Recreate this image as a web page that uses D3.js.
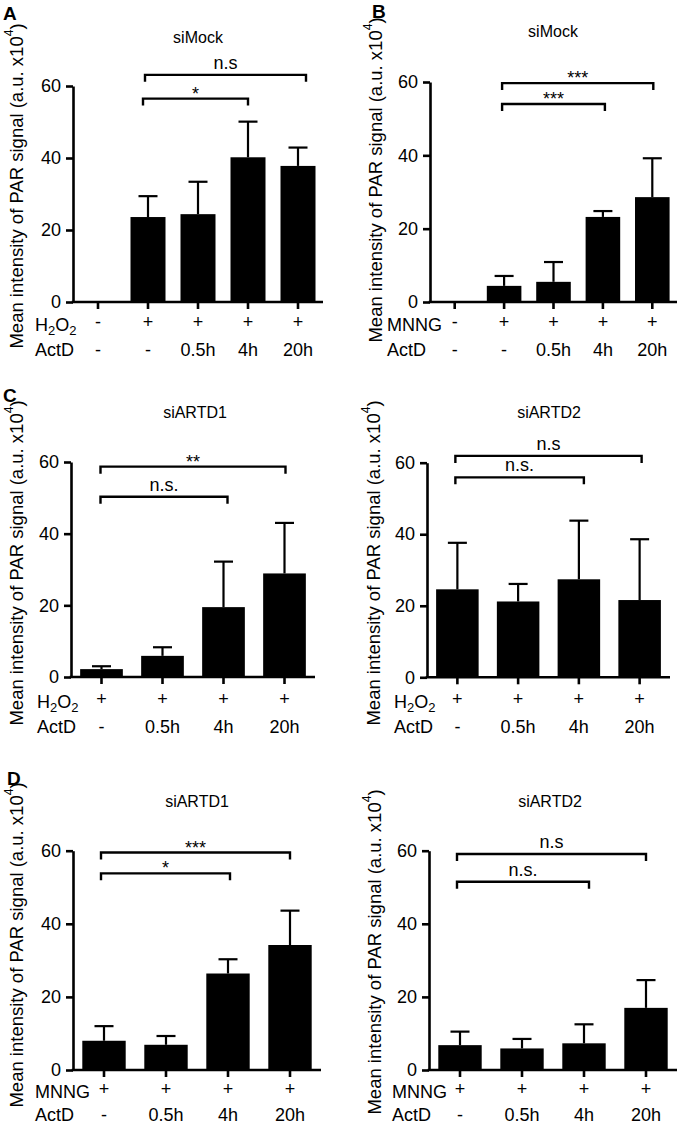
<!DOCTYPE html>
<html><head><meta charset="utf-8">
<script src="https://cdn.jsdelivr.net/npm/d3@7"></script>
<style>
html,body{margin:0;padding:0;background:#fff;}
text{font-family:"Liberation Sans",Arial,Helvetica,sans-serif;fill:#000;}
</style></head>
<body><div id="chart"></div>
<script>
// ---------- DATA ----------
const yTicks = [0, 20, 40, 60];

// Panel A (siMock, H2O2)
const treatA = ['-', '+', '+', '+', '+'];
const actdA  = ['-', '-', '0.5h', '4h', '20h'];
const meanA  = [0, 23.6, 24.4, 40.2, 37.8];
const errA   = [0, 5.8, 9.0, 9.9, 5.1];
const bracketsA = [{from:1, to:4, label:'n.s'}, {from:1, to:3, label:'*'}];

// Panel B (siMock, MNNG)
const treatB = ['-', '+', '+', '+', '+'];
const actdB  = ['-', '-', '0.5h', '4h', '20h'];
const meanB  = [0, 4.4, 5.5, 23.2, 28.6];
const errB   = [0, 2.7, 5.4, 1.6, 10.6];
const bracketsB = [{from:1, to:4, label:'***'}, {from:1, to:3, label:'***'}];

// Panel C left (siARTD1, H2O2)
const treatC1 = ['+', '+', '+', '+'];
const actdC1  = ['-', '0.5h', '4h', '20h'];
const meanC1  = [2.2, 5.9, 19.5, 28.9];
const errC1   = [0.8, 2.4, 12.7, 14.1];
const bracketsC1 = [{from:0, to:3, label:'**'}, {from:0, to:2, label:'n.s.'}];

// Panel C right (siARTD2, H2O2)
const treatC2 = ['+', '+', '+', '+'];
const actdC2  = ['-', '0.5h', '4h', '20h'];
const meanC2  = [24.6, 21.2, 27.4, 21.6];
const errC2   = [13.0, 4.9, 16.4, 17.0];
const bracketsC2 = [{from:0, to:3, label:'n.s'}, {from:0, to:2, label:'n.s.'}];

// Panel D left (siARTD1, MNNG)
const treatD1 = ['+', '+', '+', '+'];
const actdD1  = ['-', '0.5h', '4h', '20h'];
const meanD1  = [8.0, 6.9, 26.4, 34.2];
const errD1   = [4.0, 2.4, 3.9, 9.4];
const bracketsD1 = [{from:0, to:3, label:'***'}, {from:0, to:2, label:'*'}];

// Panel D right (siARTD2, MNNG)
const treatD2 = ['+', '+', '+', '+'];
const actdD2  = ['-', '0.5h', '4h', '20h'];
const meanD2  = [6.8, 5.9, 7.3, 17.0];
const errD2   = [3.7, 2.6, 5.2, 7.6];
const bracketsD2 = [{from:0, to:3, label:'n.s'}, {from:0, to:2, label:'n.s.'}];

// ---------- LAYOUT ----------
const W = 683, H = 1125;
const panels = [
  {letter:'A', lx:3, ly:20, title:'siMock', tx:198, ty:43, treatName:'H2O2',
   treat:treatA, actd:actdA, mean:meanA, err:errA, brackets:bracketsA,
   x0:73, x1:323, yTop:86, yBot:302, r1:29, r2:54, labX:35, ytX:16, ytY:186,
   bl:[{level:63.1, dxFrom:-3, dxTo:8}, {level:56.5, dxFrom:-5, dxTo:0}]},
  {letter:'B', lx:372, ly:18, title:'siMock', tx:553, ty:37, treatName:'MNNG',
   treat:treatB, actd:actdB, mean:meanB, err:errB, brackets:bracketsB,
   x0:430, x1:677, yTop:82, yBot:302, r1:29, r2:54, labX:387, ytX:375, ytY:180,
   bl:[{level:59.7, dxFrom:-2, dxTo:1}, {level:54.0, dxFrom:-2, dxTo:2}]},
  {letter:'C', lx:3, ly:402, title:'siARTD1', tx:195, ty:418, treatName:'H2O2',
   treat:treatC1, actd:actdC1, mean:meanC1, err:errC1, brackets:bracketsC1,
   x0:71, x1:315, yTop:462, yBot:677, r1:31, r2:56, labX:37, ytX:16, ytY:563,
   bl:[{level:58.7, dxFrom:-1, dxTo:1}, {level:50.3, dxFrom:-1, dxTo:4}]},
  {letter:'', title:'siARTD2', tx:549, ty:418, treatName:'H2O2',
   treat:treatC2, actd:actdC2, mean:meanC2, err:errC2, brackets:bracketsC2,
   x0:427, x1:670, yTop:462.7, yBot:677.3, r1:31, r2:56, labX:394, ytX:373, ytY:563,
   bl:[{level:61.9, dxFrom:-2, dxTo:2}, {level:55.9, dxFrom:-2, dxTo:5}]},
  {letter:'D', lx:7, ly:785, title:'siARTD1', tx:197, ty:807, treatName:'MNNG',
   treat:treatD1, actd:actdD1, mean:meanD1, err:errD1, brackets:bracketsD1,
   x0:73, x1:321, yTop:850.7, yBot:1070, r1:28, r2:50.5, labX:35, ytX:16, ytY:945,
   bl:[{level:59.5, dxFrom:-3, dxTo:0}, {level:53.8, dxFrom:-3, dxTo:2}]},
  {letter:'', title:'siARTD2', tx:550, ty:807, treatName:'MNNG',
   treat:treatD2, actd:actdD2, mean:meanD2, err:errD2, brackets:bracketsD2,
   x0:429, x1:677, yTop:850.7, yBot:1070, r1:28, r2:50.5, labX:392, ytX:374, ytY:952,
   bl:[{level:59.1, dxFrom:-3, dxTo:0}, {level:51.5, dxFrom:-3, dxTo:5}]}
];

const svg = d3.select('#chart').append('svg')
  .attr('width', W).attr('height', H).attr('viewBox', `0 0 ${W} ${H}`);

function drawPanel(p) {
  const g = svg.append('g');
  const n = p.mean.length;
  const x = d3.scaleBand().domain(d3.range(n)).range([p.x0, p.x1])
    .paddingInner(0.3).paddingOuter(0.15);
  const y = d3.scaleLinear().domain([0, 60]).range([p.yBot, p.yTop]);
  const cx = i => x(i) + x.bandwidth() / 2;

  // bars
  g.selectAll('rect.bar').data(p.mean.map((v, i) => ({v, i})).filter(d => d.v > 0))
    .enter().append('rect').attr('class', 'bar')
    .attr('x', d => x(d.i)).attr('width', x.bandwidth())
    .attr('y', d => y(d.v)).attr('height', d => y(0) - y(d.v))
    .attr('fill', '#000');

  // error bars (upper only)
  const eb = p.mean.map((v, i) => ({v, e: p.err[i], i})).filter(d => d.e > 0);
  g.selectAll('line.stem').data(eb).enter().append('line')
    .attr('x1', d => cx(d.i)).attr('x2', d => cx(d.i))
    .attr('y1', d => y(d.v)).attr('y2', d => y(d.v + d.e))
    .attr('stroke', '#000').attr('stroke-width', 2.2);
  g.selectAll('line.cap').data(eb).enter().append('line')
    .attr('x1', d => cx(d.i) - 9.5).attr('x2', d => cx(d.i) + 9.5)
    .attr('y1', d => y(d.v + d.e)).attr('y2', d => y(d.v + d.e))
    .attr('stroke', '#000').attr('stroke-width', 2.2);

  // y axis
  const ya = g.append('g').attr('transform', `translate(${p.x0},0)`)
    .call(d3.axisLeft(y).tickValues(yTicks).tickSize(7).tickSizeOuter(0).tickPadding(5));
  // x axis
  const xa = g.append('g').attr('transform', `translate(0,${p.yBot})`)
    .call(d3.axisBottom(x).tickSize(7).tickSizeOuter(0).tickFormat(''));
  [ya, xa].forEach(a => {
    a.select('.domain').attr('stroke', '#000').attr('stroke-width', 2.6);
    a.selectAll('.tick line').attr('stroke', '#000').attr('stroke-width', 2.6);
    a.selectAll('.tick text').attr('fill', '#000').style('font-size', '18px')
      .style('font-family', '"Liberation Sans",Arial,sans-serif');
  });
  xa.select('.domain').attr('d', `M${p.x0 - 1.3},0H${p.x1}`);

  // row labels
  const r1 = g.append('text').attr('x', p.labX).attr('y', p.yBot + p.r1)
    .style('font-size', '18px');
  if (p.treatName === 'H2O2') {
    r1.append('tspan').text('H');
    r1.append('tspan').attr('dy', 4).style('font-size', '13px').text('2');
    r1.append('tspan').attr('dy', -4).text('O');
    r1.append('tspan').attr('dy', 4).style('font-size', '13px').text('2');
  } else {
    r1.text(p.treatName);
  }
  g.append('text').attr('x', p.labX).attr('y', p.yBot + p.r2)
    .style('font-size', '18px').text('ActD');

  g.selectAll('text.t1').data(p.treat).enter().append('text')
    .attr('x', (d, i) => cx(i)).attr('y', p.yBot + p.r1 - 3)
    .attr('text-anchor', 'middle').style('font-size', '18px').text(d => d);
  g.selectAll('text.t2').data(p.actd).enter().append('text')
    .attr('x', (d, i) => cx(i)).attr('y', p.yBot + p.r2)
    .attr('text-anchor', 'middle').style('font-size', '18px').text(d => d);

  // significance brackets
  p.brackets.forEach((b, k) => {
    const L = p.bl[k];
    const xa_ = cx(b.from) + L.dxFrom, xb_ = cx(b.to) + L.dxTo, yb = y(L.level);
    g.append('path').attr('d', `M${xa_},${yb + 7}V${yb}H${xb_}V${yb + 7}`)
      .attr('fill', 'none').attr('stroke', '#000').attr('stroke-width', 2.4);
    const stars = b.label.indexOf('*') >= 0;
    g.append('text').attr('x', (xa_ + xb_) / 2).attr('y', stars ? yb + 1 : yb - 6)
      .attr('text-anchor', 'middle').style('font-size', '18px').text(b.label);
  });

  // title
  g.append('text').attr('x', p.tx).attr('y', p.ty).attr('text-anchor', 'middle')
    .style('font-size', '16px').text(p.title);

  // y-axis title
  const yt = g.append('text')
    .attr('transform', `translate(${p.ytX},${p.ytY}) rotate(-90)`)
    .attr('text-anchor', 'middle').attr('dominant-baseline', 'central')
    .style('font-size', '18.5px');
  yt.append('tspan').text('Mean intensity of PAR signal (a.u. x10');
  yt.append('tspan').attr('dy', -7).style('font-size', '12px').text('4');
  yt.append('tspan').attr('dy', 7).text(')');

  // panel letter
  if (p.letter) {
    g.append('text').attr('x', p.lx).attr('y', p.ly)
      .style('font-size', '19px').style('font-weight', 'bold').text(p.letter);
  }
}

panels.forEach(drawPanel);
</script>
</body></html>
